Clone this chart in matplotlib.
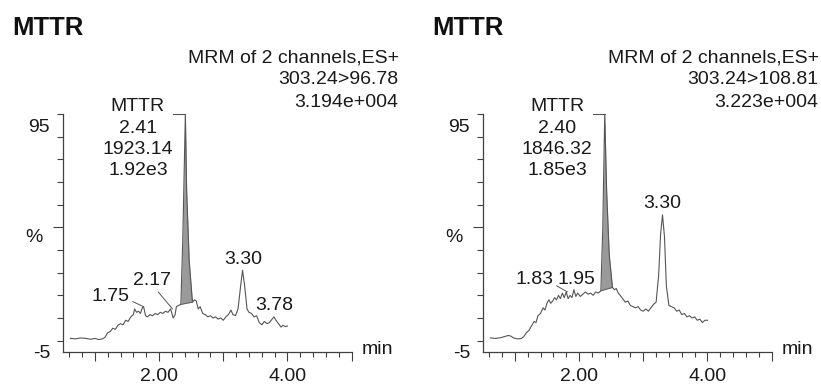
import numpy as np
import matplotlib
matplotlib.use("Agg")
import matplotlib.pyplot as plt

plt.rcParams['font.family'] = ['Liberation Sans', 'DejaVu Sans']

# ---- data: channel 1 (303.24>96.78) ----
t1 = [0.62, 0.70, 0.78, 0.86, 0.94, 1.00, 1.06, 1.12, 1.16, 1.20, 1.24, 1.28, 1.32,
      1.36, 1.40, 1.44, 1.48, 1.52, 1.56, 1.60, 1.62, 1.65, 1.68, 1.71, 1.74, 1.76,
      1.79, 1.82, 1.86, 1.90, 1.94, 1.98, 2.02, 2.06, 2.10, 2.14, 2.18, 2.20, 2.22,
      2.25, 2.27, 2.30, 2.34, 2.37, 2.41, 2.43, 2.47, 2.52, 2.55, 2.58, 2.61, 2.64,
      2.68, 2.72, 2.76, 2.80, 2.84, 2.88, 2.92, 2.96, 3.00, 3.04, 3.08, 3.12, 3.15,
      3.19, 3.23, 3.27, 3.30, 3.33, 3.37, 3.40, 3.44, 3.48, 3.52, 3.56, 3.60, 3.64,
      3.68, 3.72, 3.76, 3.79, 3.82, 3.86, 3.90, 3.93, 3.97, 4.00]
v1 = [1.0, 0.8, 1.2, 1.0, 0.6, 1.0, 0.5, 0.8, 1.5, 3.5, 4.0, 5.5, 5.0,
      6.8, 7.5, 7.0, 9.0, 8.5, 10.5, 11.5, 14.0, 12.5, 13.0, 12.0, 14.5, 15.0,
      11.0, 10.5, 11.5, 11.0, 12.0, 11.5, 12.5, 12.0, 13.0, 12.5, 14.0, 12.0, 10.0,
      11.5, 15.0, 15.5, 16.0, 45.0, 100.0, 66.0, 35.0, 17.0, 18.0, 17.5, 14.0, 15.0,
      12.0, 11.5, 10.5, 11.0, 10.0, 10.5, 9.5, 10.0, 9.0, 10.5, 11.5, 13.5, 11.5,
      11.0, 14.0, 24.0, 31.0, 25.0, 14.0, 12.5, 12.0, 10.5, 11.0, 8.0, 7.0, 8.5,
      7.5, 8.0, 9.5, 10.5, 9.0, 7.5, 6.0, 6.8, 6.2, 6.5]

# ---- data: channel 2 (303.24>108.81) ----
t2 = [0.62, 0.70, 0.78, 0.84, 0.90, 0.94, 0.98, 1.04, 1.10, 1.14, 1.18, 1.22, 1.26,
      1.30, 1.33, 1.36, 1.40, 1.44, 1.47, 1.50, 1.53, 1.56, 1.59, 1.62, 1.65, 1.68,
      1.71, 1.74, 1.77, 1.80, 1.83, 1.86, 1.89, 1.92, 1.95, 1.98, 2.02, 2.06, 2.10,
      2.14, 2.18, 2.22, 2.26, 2.30, 2.34, 2.37, 2.40, 2.43, 2.47, 2.52, 2.55, 2.58,
      2.61, 2.64, 2.68, 2.72, 2.76, 2.80, 2.84, 2.88, 2.92, 2.96, 3.00, 3.04, 3.08,
      3.12, 3.16, 3.20, 3.24, 3.27, 3.30, 3.33, 3.36, 3.40, 3.44, 3.48, 3.52, 3.56,
      3.60, 3.64, 3.68, 3.72, 3.76, 3.80, 3.84, 3.88, 3.92, 3.96, 4.00]
v2 = [1.2, 1.0, 1.3, 1.8, 2.3, 2.0, 1.2, 0.8, 0.9, 1.8, 3.5, 4.5, 6.5,
      8.5, 8.0, 11.0, 12.0, 14.5, 13.5, 16.5, 18.0, 16.5, 17.5, 19.0, 18.0, 20.0,
      18.5, 21.0, 19.0, 21.5, 18.5, 20.0, 19.0, 22.5, 19.5, 21.0, 19.5, 20.5, 21.5,
      20.5, 21.0, 20.0, 21.5, 21.0, 22.0, 50.0, 100.0, 66.0, 38.0, 23.5, 22.5, 23.0,
      21.0, 20.0, 18.5, 17.0, 17.5, 15.5, 15.0, 14.5, 15.0, 13.5, 13.0, 14.0, 13.0,
      14.5, 16.0, 17.0, 29.0, 47.0, 55.5, 46.0, 24.0, 15.5, 15.0, 14.5, 13.0, 13.5,
      11.5, 12.0, 10.5, 11.0, 10.0, 10.5, 9.0, 9.5, 8.0, 9.0, 9.0]

# integrated MTTR peak (start, end) in minutes
peak1 = (2.34, 2.52)
peak2 = (2.34, 2.52)

channels = ["303.24>96.78", "303.24>108.81"]
intensities = ["3.194e+004", "3.223e+004"]
mttr_info = ["MTTR\n2.41\n1923.14\n1.92e3", "MTTR\n2.40\n1846.32\n1.85e3"]
mttr_rt = [2.41, 2.40]

# (label, peak point, text position, leader start on text or None)
labels1 = [("1.75", (1.76, 15.0), (1.25, 19.3), (1.0, 0.3)),
           ("2.17", (2.21, 14.0), (1.89, 26.5), (0.6, 0.0)),
           ("3.30", (3.30, 31.0), (3.31, 35.6), None),
           ("3.78", (3.79, 10.5), (3.79, 15.4), None)]
labels2 = [("1.83", (1.82, 21.5), (1.31, 26.8), (1.0, 0.25)),
           ("1.95", (1.95, 19.5), (1.96, 26.8), None),
           ("3.30", (3.30, 55.5), (3.30, 60.3), None)]

W, H = 821, 386
fig = plt.figure(figsize=(W / 100, H / 100), dpi=100)
txt = '#1a1a1a'
ln = '#555555'


def panel(left_px, t, v, peak, info, rt, labels, chan, inten):
    ax = fig.add_axes([left_px / W, (H - 352) / H, 289 / W, 238 / H])
    ax.set_xlim(0.5, 5.0)
    ax.set_ylim(-5, 100)
    for s in ['top', 'right']:
        ax.spines[s].set_visible(False)
    for s in ['left', 'bottom']:
        ax.spines[s].set_color('#404040')
        ax.spines[s].set_linewidth(0.9)

    t = np.array(t)
    v = np.array(v)
    ax.plot(t, v, color=ln, lw=0.8)
    m = (t >= peak[0]) & (t <= peak[1])
    base = np.interp(t[m], [t[m][0], t[m][-1]], [v[m][0], v[m][-1]])
    ax.fill_between(t[m], base, v[m], color='#9a9a9a', lw=0)
    ax.plot([t[m][0], t[m][-1]], [v[m][0], v[m][-1]], color=ln, lw=0.6)

    # axes ticks
    ax.set_xticks([1, 2, 3, 4, 5], ['', '2.00', '', '4.00', ''])
    ax.set_xticks(np.arange(0.6, 5.0, 0.2), minor=True)
    ax.tick_params(axis='x', which='major', length=6.5, width=0.8, color='#404040',
                   labelsize=14, labelcolor=txt, pad=5)
    ax.tick_params(axis='x', which='minor', length=3.5, width=0.8, color='#404040')
    ax.set_yticks([-5, 95], ['-5', '95'])
    ax.set_yticks(np.arange(0, 101, 10), minor=True)
    ax.tick_params(axis='y', which='major', length=0, labelsize=14, labelcolor=txt, pad=9)
    ax.tick_params(axis='y', which='minor', length=4.5, width=0.8, color='#404040')
    ax.yaxis.get_minor_ticks()[5].tick1line.set_markersize(7.5)

    ax.text(-0.07, 45.7, '%', transform=ax.get_yaxis_transform(), ha='right',
            va='center', fontsize=14, color=txt)
    ax.text(1.035, -4, 'min', transform=ax.get_yaxis_transform(), ha='left',
            va='center', fontsize=14, color=txt, clip_on=False)

    # main peak annotation
    ax.text(rt - 0.74, 89, info, ha='center', va='center', fontsize=14,
            color=txt, linespacing=1.33, clip_on=False)
    ax.plot([rt - 0.19, rt], [100.2, 100.2], color=ln, lw=0.8, clip_on=False)

    for lab, xy, xyt, rel in labels:
        if rel is not None:
            ax.annotate(lab, xy=xy, xytext=xyt, ha='center', va='center', fontsize=14,
                        color=txt, arrowprops=dict(arrowstyle='-', color=ln, lw=0.7,
                                                   relpos=rel, shrinkA=0, shrinkB=0))
        else:
            ax.text(xyt[0], xyt[1], lab, ha='center', va='center', fontsize=14, color=txt)

    # header
    x0 = left_px - 50
    fig.text(x0 / W, 1 - 28 / H, 'MTTR', ha='left', va='center', fontsize=18.5,
             fontweight='bold', color='#111111')
    fig.text((left_px + 336) / W, 1 - 80 / H,
             'MRM of 2 channels,ES+\n' + chan + '\n' + inten,
             ha='right', va='center', multialignment='right', fontsize=14,
             color=txt, linespacing=1.4)
    return ax


panel(62.7, t1, v1, peak1, mttr_info[0], mttr_rt[0], labels1, channels[0], intensities[0])
panel(482.7, t2, v2, peak2, mttr_info[1], mttr_rt[1], labels2, channels[1], intensities[1])

fig.savefig('out.png', dpi=100)
